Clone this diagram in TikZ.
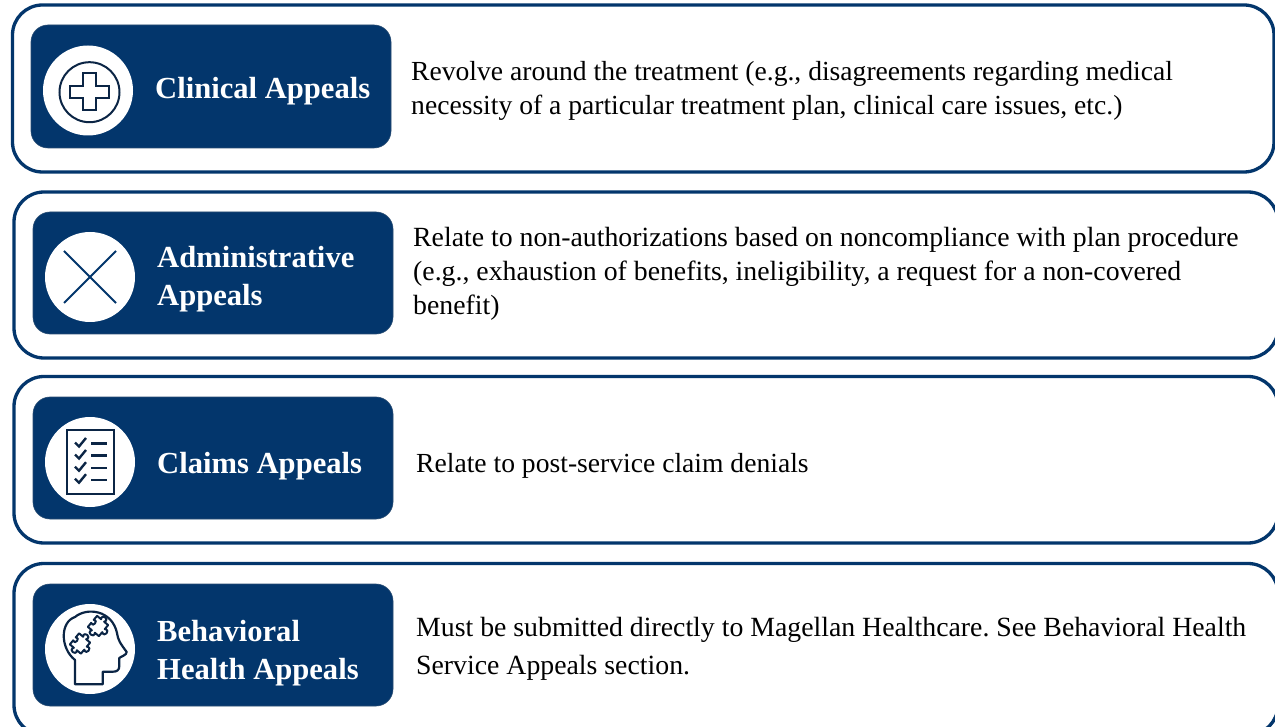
\documentclass[tikz,border=0pt]{standalone}
\usepackage{fontspec}
\setmainfont{Liberation Serif}
\frenchspacing
\definecolor{navy}{HTML}{03366C}
\definecolor{inkk}{HTML}{0B2545}
\newcommand{\puzzlepiece}[3]{%
 \begin{scope}[shift={(#1,#2)},rotate=#3,scale=7.2]
 \draw[inkk,line width=2pt,fill=white,line join=round]
  (-1,-1) -- (-.28,-1) .. controls (-.75,-1.75) and (.75,-1.75) .. (.28,-1) -- (1,-1)
  -- (1,-.28) .. controls (1.75,-.75) and (1.75,.75) .. (1,.28) -- (1,1)
  -- (.28,1) .. controls (.75,1.75) and (-.75,1.75) .. (-.28,1) -- (-1,1)
  -- (-1,.28) .. controls (-.4,.75) and (-.4,-.75) .. (-1,-.28) -- cycle;
 \end{scope}}
\tikzset{
 x=1pt,y=-1pt,
 outerbox/.style={draw=navy,line width=3.3pt,fill=white,rounded corners=30pt},
 innerbox/.style={fill=navy,draw=navy!70!gray,line width=.6pt,rounded corners=17pt},
 iconbg/.style={fill=white,circle,minimum size=90pt,inner sep=0pt},
 icon/.style={draw=inkk,line width=2pt},
 title/.style={text=white,font=\fontsize{30.6}{38}\selectfont\bfseries,anchor=west,align=left,inner sep=0pt},
 body/.style={text=black,font=\fontsize{27.6}{34}\selectfont,anchor=west,align=left,inner sep=0pt},
 bodywide/.style={body,font=\fontsize{27.78}{34}\selectfont},
}
\begin{document}
\begin{tikzpicture}
\useasboundingbox (0,0) rectangle (1275,727);
\fill[white] (0,0) rectangle (1275,727);
\begin{scope}
\clip (0,0) rectangle (1275,727);
\draw[outerbox] (12.5,5) rectangle (1274,172);
\draw[outerbox] (14,192) rectangle (1278,358);
\draw[outerbox] (14,376.5) rectangle (1278,543);
\draw[outerbox] (14,563.5) rectangle (1278,735);
\end{scope}
\draw[innerbox] (31,25) rectangle (391,148);
\draw[innerbox] (33,212) rectangle (393,334);
\draw[innerbox] (33,397) rectangle (393,519);
\draw[innerbox] (33,584) rectangle (393,706);
\node[iconbg] (c1) at (88,90.5) {};
\node[iconbg] (c2) at (90,277) {};
\node[iconbg] (c3) at (90,462) {};
\node[iconbg] (c4) at (90,649) {};
% plus icon
\draw[icon] (89.5,92.2) circle (30);
\draw[icon,line join=miter] (83,73)--(96,73)--(96,86)--(109,86)--(109,98)--(96,98)--(96,110.5)--(83,110.5)--(83,98)--(70,98)--(70,86)--(83,86)--cycle;
% cross icon
\draw[navy,line width=1.8pt] (64,251)--(116,303) (116,251)--(64,303);
% checklist icon
\draw[icon,line width=2.6pt] (67,430)--(114,430)--(114,494)--(67,494)--cycle;
\foreach \yy in {443.5,455.5,467.7,479.7}{
 \draw[inkk,line width=2.4pt] (75,\yy-1)--(79,\yy+3)--(86,\yy-5.5);
 \draw[inkk,line width=2.4pt] (91,\yy)--(107,\yy);
}
% head icon
\draw[icon,line width=2.2pt,line join=round,line cap=round] (75,684.3)--(75,660) .. controls (60,648) and (60,622) .. (75,617)
 .. controls (87,607) and (112,610) .. (117,633) .. controls (118,640) and (120,643) .. (126.7,652)
 .. controls (127,655) and (120,657) .. (119.3,658) -- (119.3,666) .. controls (119.3,670) and (117,671.7) .. (113,671.7)
 -- (102.7,671.7) -- (102.7,684.3) -- cycle;
\puzzlepiece{80}{643.5}{-40}
\puzzlepiece{98}{626}{-40}
% titles
\node[title] (t1) at (155,91) {Clinical Appeals};
\node[title] (t2) at (157,279) {Administrative\\Appeals};
\node[title] (t3) at (157,466) {Claims Appeals};
\node[title] (t4) at (157,653) {Behavioral\\Health Appeals};
% bodies
\node[body] (b1) at (411,91) {Revolve around the treatment (e.g., disagreements regarding medical\\necessity of a particular treatment plan, clinical care issues, etc.)};
\node[bodywide] (b2) at (413,274) {Relate to non-authorizations based on noncompliance with plan procedure\\(e.g., exhaustion of benefits, ineligibility, a request for a non-covered\\benefit)};
\node[body] (b3) at (416,466) {Relate to post-service claim denials};
\node[bodywide] (b4) at (416,649) {Must be submitted directly to Magellan Healthcare. See Behavioral Health\\[4pt]Service Appeals section.};
\end{tikzpicture}
\end{document}
